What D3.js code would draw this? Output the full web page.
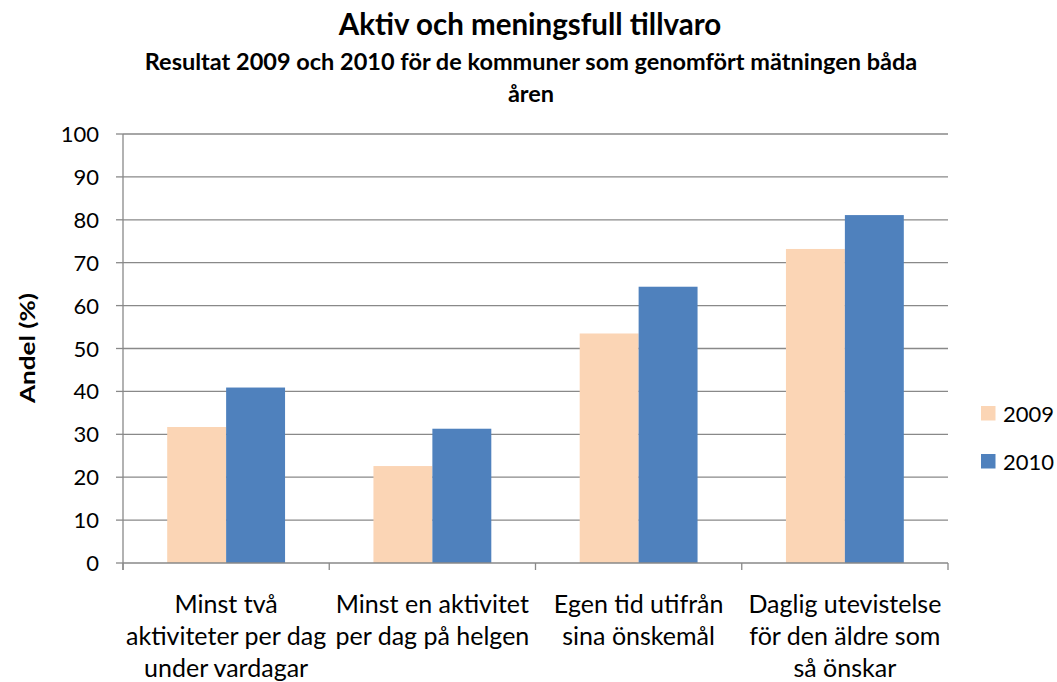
<!DOCTYPE html>
<html>
<head>
<meta charset="utf-8">
<script src="https://cdn.jsdelivr.net/npm/d3@7"></script>
<style>
  body { margin: 0; background: #fff; }
  svg { display: block; font-family: Lato, "Open Sans", sans-serif; }
</style>
</head>
<body>
<svg id="chart" width="1057" height="682"></svg>
<script>
// --- Daten ---
const categories = [
  ['Minst två', 'aktiviteter per dag', 'under vardagar'],
  ['Minst en aktivitet', 'per dag på helgen'],
  ['Egen tid utifrån', 'sina önskemål'],
  ['Daglig utevistelse', 'för den äldre som', 'så önskar']
];
const seriesNames = ['2009', '2010'];
const values2009 = [31.7, 22.6, 53.5, 73.2];
const values2010 = [40.9, 31.3, 64.4, 81.1];
const yTicks = [0, 10, 20, 30, 40, 50, 60, 70, 80, 90, 100];
const colors = ['#FBD5B5', '#4F81BD'];

const svg = d3.select('#chart');
const margin = { left: 123, right: 1057 - 948, top: 134, bottom: 682 - 563 };
const width = 1057 - margin.left - margin.right;
const height = 682 - margin.top - margin.bottom;

const g = svg.append('g').attr('transform', `translate(${margin.left},${margin.top})`);

const x0 = d3.scaleBand().domain(d3.range(categories.length)).range([0, width]).paddingInner(0).paddingOuter(0);
// Excel gap width 150%: 2 Balken + 1.5 Balkenbreiten Lücke
const barW = x0.bandwidth() / 3.5;
const y = d3.scaleLinear().domain([0, 100]).range([height, 0]);

// Gitterlinien
g.selectAll('.grid').data(yTicks.filter(d => d > 0)).enter().append('line')
  .attr('x1', 0).attr('x2', width)
  .attr('y1', d => y(d)).attr('y2', d => y(d))
  .style('stroke', '#898989').style('stroke-width', 1.3);

// Balken
const rows = categories.map((c, i) => [values2009[i], values2010[i]]);
rows.forEach((r, i) => {
  r.forEach((v, s) => {
    g.append('rect')
      .attr('x', x0(i) + barW * 0.75 + s * barW)
      .attr('y', y(v))
      .attr('width', barW)
      .attr('height', y(0) - y(v))
      .style('fill', colors[s]);
  });
});

// Y-Achse
g.append('line').attr('x1', 0).attr('x2', 0).attr('y1', 0).attr('y2', height + 7)
  .style('stroke', '#898989').style('stroke-width', 1.3);
g.selectAll('.ytick').data(yTicks).enter().append('line')
  .attr('x1', -7).attr('x2', 0)
  .attr('y1', d => y(d)).attr('y2', d => y(d))
  .style('stroke', '#898989').style('stroke-width', 1.3);
g.selectAll('.ylab').data(yTicks).enter().append('text')
  .attr('x', -24).attr('y', d => y(d) + 8)
  .attr('text-anchor', 'end')
  .style('font-size', '22px').style('fill', '#000')
  .text(d => d);

// X-Achse
g.append('line').attr('x1', 0).attr('x2', width).attr('y1', height).attr('y2', height)
  .style('stroke', '#898989').style('stroke-width', 1.3);
g.selectAll('.xtick').data(d3.range(categories.length + 1)).enter().append('line')
  .attr('x1', d => d * x0.bandwidth()).attr('x2', d => d * x0.bandwidth())
  .attr('y1', height).attr('y2', height + 7)
  .style('stroke', '#898989').style('stroke-width', 1.3);

categories.forEach((lines, i) => {
  const t = g.append('text')
    .attr('text-anchor', 'middle')
    .style('font-size', '25px').style('fill', '#000');
  lines.forEach((ln, k) => {
    t.append('tspan')
      .attr('x', x0(i) + x0.bandwidth() / 2)
      .attr('y', 613 - margin.top + k * 32)
      .text(ln);
  });
});

// Achsentitel
svg.append('text')
  .attr('transform', `translate(35,348) rotate(-90)`)
  .attr('text-anchor', 'middle')
  .attr('textLength', 110).attr('lengthAdjust', 'spacingAndGlyphs')
  .style('font-size', '20px').style('font-weight', 'bold')
  .text('Andel (%)');

// Titel
svg.append('text').attr('x', 530).attr('y', 35).attr('text-anchor', 'middle')
  .style('font-size', '29.5px').style('font-weight', 'bold')
  .text('Aktiv och meningsfull tillvaro');
svg.append('text').attr('x', 531).attr('y', 70).attr('text-anchor', 'middle')
  .style('font-size', '23.5px').style('font-weight', 'bold')
  .text('Resultat 2009 och 2010 för de kommuner som genomfört mätningen båda');
svg.append('text').attr('x', 531).attr('y', 102).attr('text-anchor', 'middle')
  .style('font-size', '23.5px').style('font-weight', 'bold')
  .text('åren');

// Legende
const legend = svg.append('g').attr('transform', 'translate(981,406)');
seriesNames.forEach((n, i) => {
  legend.append('rect').attr('x', 0).attr('y', i * 48).attr('width', 14.5).attr('height', 14.5)
    .style('fill', colors[i]);
  legend.append('text').attr('x', 22).attr('y', i * 48 + 15.5)
    .style('font-size', '22px').text(n);
});
</script>
</body>
</html>
